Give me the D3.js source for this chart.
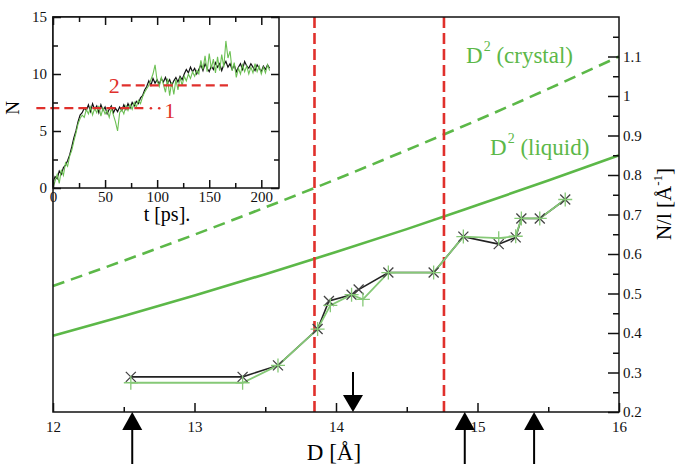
<!DOCTYPE html>
<html>
<head>
<meta charset="utf-8">
<script src="https://cdn.jsdelivr.net/npm/d3@7"></script>
<style>
  body { margin: 0; background: #fff; }
  svg text { font-family: "Liberation Serif", "Times New Roman", serif; }
</style>
</head>
<body>
<svg id="chart" width="678" height="464"></svg>
<script>

// ---- main panel data ----
var xTicks = [12, 13, 14, 15, 16];
var xMinor = [12.5, 13.5, 14.5, 15.5];
var yTicks = [0.2, 0.3, 0.4, 0.5, 0.6, 0.7, 0.8, 0.9, 1.0, 1.1];
var yMinor = [0.25, 0.35, 0.45, 0.55, 0.65, 0.75, 0.85, 0.95, 1.05, 1.15];

// D^2 reference curves
var curveD    = [12, 12.5, 13, 13.5, 14, 14.5, 15, 15.5, 16];
var crystalN  = [0.519, 0.583, 0.649, 0.718, 0.789, 0.863, 0.939, 1.018, 1.100];
var liquidN   = [0.393, 0.443, 0.495, 0.549, 0.605, 0.663, 0.724, 0.786, 0.850];

// simulation points (black x, green +)
var blackD = [12.55, 13.34, 13.59, 13.87, 13.95, 14.11, 14.16, 14.37, 14.69, 14.90, 15.15, 15.27, 15.31, 15.44, 15.62];
var blackN = [0.289, 0.289, 0.318, 0.410, 0.481, 0.497, 0.510, 0.553, 0.553, 0.644, 0.625, 0.642, 0.690, 0.690, 0.738];
var greenD = [12.55, 13.34, 13.59, 13.87, 13.96, 14.11, 14.19, 14.37, 14.69, 14.90, 15.15, 15.27, 15.31, 15.44, 15.62];
var greenN = [0.274, 0.274, 0.318, 0.410, 0.470, 0.497, 0.485, 0.553, 0.553, 0.644, 0.640, 0.645, 0.690, 0.690, 0.738];

// red dashed verticals and arrows
var redD = [13.848, 14.763];
var arrowDownD = [14.12];
var arrowUpD = [12.56, 14.91, 15.40];

// ---- inset data ----
var tTicks = [0, 50, 100, 150, 200];
var tMinor = [25, 75, 125, 175];
var nTicks = [0, 5, 10, 15];
var nMinor = [2.5, 7.5, 12.5];
var tStep = 2;   // ps between samples
var blackTrace = [0.5,1.0,0.8,1.5,1.2,1.8,2.0,2.4,2.9,3.6, 4.4,5.0,5.8,6.4,6.6,7.0,6.8,7.3,6.7,7.4,
  6.9,7.2,6.6,7.3,6.8,7.1,6.5,6.9,7.2,6.6, 7.0,6.7,7.1,6.8,7.3,6.9,7.4,7.0,7.5,7.2,
  7.6,7.4,7.9,8.1,8.6,8.9,9.4,9.0,9.6,9.2, 9.5,9.1,9.6,9.3,9.7,9.2,9.5,9.0,9.4,9.7,
  9.3,9.8,9.5,10.0,10.4,10.1,10.6,10.2,10.5,10.0, 10.4,10.8,10.3,10.9,10.5,10.2,10.7,10.4,11.0,10.6,
  10.9,10.3,10.8,11.1,10.6,10.9,10.4,10.8,10.2,10.6, 10.9,10.4,11.1,10.7,10.5,10.9,10.6,10.3,10.8,10.5,
  10.2,10.7,10.4,10.8,10.5];
var greenTrace = [0.0,0.6,1.2,0.4,1.6,1.1,2.2,1.9,2.8,3.3, 4.1,4.8,5.6,6.1,6.4,6.2,6.9,6.5,7.1,6.4,
  7.0,6.6,7.2,6.3,7.0,6.5,6.8,6.2,7.0,6.4, 5.8,5.0,6.6,6.9,6.5,7.2,6.8,7.3,6.9,7.5,
  7.1,7.7,7.4,8.0,8.4,8.7,9.0,9.5,10.0,10.8, 9.4,8.9,9.7,9.1,8.4,9.6,8.1,9.3,8.2,9.5,
  8.6,9.7,9.0,9.8,9.4,10.0,9.6,10.2,9.8,10.3, 10.0,11.2,10.4,11.6,10.2,11.8,10.5,11.3,10.1,11.5,
  10.3,11.7,10.6,12.9,11.4,12.0,10.3,11.0,9.7,10.5, 10.0,10.8,10.2,10.7,10.0,10.6,10.1,10.9,10.2,10.7,
  10.0,10.6,10.1,10.8,10.3];
// plateau guides in the inset
var guideN  = [7, 9];
var guideT0 = [-16, 66];
var guideT1 = [91, 168];
var guideLabels = ["1", "2"];
var guideDotsT = [94, 102];

// ---- layout ----
var W = 678, H = 464;
var frame = {left: 53, right: 619, top: 17, bottom: 412};
var box = {left: 53, right: 279, top: 17, bottom: 188};
var serif = "'Liberation Serif', 'Times New Roman', serif";

var green = "#5cb848", lightGreen = "#86c977", red = "#e0302c", ink = "#111";

var svg = d3.select("#chart");
svg.append("rect").attr("width", W).attr("height", H).attr("fill", "#fff");

var x = d3.scaleLinear().domain([12, 16]).range([frame.left, frame.right]);
var y = d3.scaleLinear().domain([0.2, 1.2]).range([frame.bottom, frame.top]);

// D^2 curves
var cline = d3.line().x(d => x(d[0])).y(d => y(d[1])).curve(d3.curveMonotoneX);
svg.append("path")
  .datum(curveD.map((d, i) => [d, crystalN[i]]))
  .attr("d", cline).attr("fill", "none")
  .attr("stroke", green).attr("stroke-width", 2.6)
  .attr("stroke-dasharray", "12,7");
svg.append("path")
  .datum(curveD.map((d, i) => [d, liquidN[i]]))
  .attr("d", cline).attr("fill", "none")
  .attr("stroke", green).attr("stroke-width", 2.6);

// red dashed verticals
svg.selectAll(".redv").data(redD).enter().append("line")
  .attr("x1", d => x(d)).attr("x2", d => x(d))
  .attr("y1", frame.top).attr("y2", frame.bottom)
  .attr("stroke", red).attr("stroke-width", 2.6)
  .attr("stroke-dasharray", "11,5");

// data lines
var pline = d3.line().x(d => x(d[0])).y(d => y(d[1]));
var blackPts = blackD.map((d, i) => [d, blackN[i]]);
var greenPts = greenD.map((d, i) => [d, greenN[i]]);
svg.append("path").datum(blackPts).attr("d", pline)
  .attr("fill", "none").attr("stroke", "#222").attr("stroke-width", 1.6);
svg.append("path").datum(greenPts).attr("d", pline)
  .attr("fill", "none").attr("stroke", lightGreen).attr("stroke-width", 1.8);

// markers
svg.selectAll(".bx").data(blackPts).enter().append("path")
  .attr("transform", d => "translate(" + x(d[0]) + "," + y(d[1]) + ")")
  .attr("d", "M-5,-5L5,5M-5,5L5,-5")
  .attr("stroke", "#444").attr("stroke-width", 1.3).attr("fill", "none");
svg.selectAll(".gp").data(greenPts).enter().append("path")
  .attr("transform", d => "translate(" + x(d[0]) + "," + y(d[1]) + ")")
  .attr("d", "M0,-7V7M-7,0H7")
  .attr("stroke", lightGreen).attr("stroke-width", 1.3).attr("fill", "none");

// frame
svg.append("rect")
  .attr("x", frame.left).attr("y", frame.top)
  .attr("width", frame.right - frame.left).attr("height", frame.bottom - frame.top)
  .attr("fill", "none").attr("stroke", ink).attr("stroke-width", 1.5);

function styleAxis(g, size) {
  g.attr("color", ink);
  g.select(".domain").remove();
  g.selectAll("line").attr("stroke-width", 1.5);
  g.selectAll("text").style("font-family", serif).style("font-size", size + "px");
}

// bottom axis (ticks point inward)
svg.append("g").attr("transform", "translate(0," + frame.bottom + ")")
  .call(d3.axisBottom(x).tickValues(xTicks).tickSize(-9).tickPadding(9).tickFormat(d3.format("d")))
  .call(g => styleAxis(g, 15));
svg.append("g").attr("transform", "translate(0," + frame.bottom + ")")
  .call(d3.axisBottom(x).tickValues(xMinor).tickSize(-5).tickFormat(""))
  .call(g => styleAxis(g, 15));

// right axis
svg.append("g").attr("transform", "translate(" + frame.right + ",0)")
  .call(d3.axisRight(y).tickValues(yTicks).tickSize(-11).tickPadding(4).tickFormat(d3.format("~g")))
  .call(g => styleAxis(g, 15));
svg.append("g").attr("transform", "translate(" + frame.right + ",0)")
  .call(d3.axisRight(y).tickValues(yMinor).tickSize(-6).tickFormat(""))
  .call(g => styleAxis(g, 15));

// arrows
var arrows = svg.append("g").attr("fill", "#000").attr("stroke", "#000");
arrowDownD.forEach(function(d) {
  var cx = x(d);
  arrows.append("line").attr("x1", cx).attr("x2", cx)
    .attr("y1", frame.bottom - 40).attr("y2", frame.bottom - 14).attr("stroke-width", 2);
  arrows.append("path")
    .attr("d", "M" + (cx - 10) + "," + (frame.bottom - 17) + "L" + (cx + 10) + "," + (frame.bottom - 17) + "L" + cx + "," + frame.bottom + "Z")
    .attr("stroke", "none");
});
arrowUpD.forEach(function(d) {
  var cx = x(d);
  arrows.append("line").attr("x1", cx).attr("x2", cx)
    .attr("y1", frame.bottom + 14).attr("y2", H).attr("stroke-width", 2);
  arrows.append("path")
    .attr("d", "M" + (cx - 10) + "," + (frame.bottom + 18) + "L" + (cx + 10) + "," + (frame.bottom + 18) + "L" + cx + "," + frame.bottom + "Z")
    .attr("stroke", "none");
});

// labels
svg.append("text").attr("x", (x(14) - 2)).attr("y", 460)
  .attr("text-anchor", "middle").style("font-family", serif).style("font-size", "23px").text("D [Å]");

var ylab = svg.append("text")
  .attr("transform", "translate(671,204) rotate(-90)")
  .attr("text-anchor", "middle").style("font-family", serif).style("font-size", "21px");
ylab.append("tspan").text("N/l [Å");
ylab.append("tspan").attr("dy", -9).style("font-size", "13px").text("-1");
ylab.append("tspan").attr("dy", 9).text("]");

function d2Label(xp, yp, word) {
  var t = svg.append("text").attr("x", xp).attr("y", yp)
    .style("font-family", serif).style("font-size", "23px").attr("fill", green);
  t.append("tspan").text("D");
  t.append("tspan").attr("dy", -12).attr("dx", 1).style("font-size", "14px").text("2");
  t.append("tspan").attr("dy", 12).text(" (" + word + ")");
}
d2Label(466, 63, "crystal");
d2Label(490, 155, "liquid");

// ---- inset ----
var tx = d3.scaleLinear().domain([0, 217]).range([box.left, box.right]);
var ty = d3.scaleLinear().domain([0, 15]).range([box.bottom, box.top]);

svg.append("rect")
  .attr("x", box.left).attr("y", box.top)
  .attr("width", box.right - box.left).attr("height", box.bottom - box.top)
  .attr("fill", "#fff");

var tline = d3.line().x((d, i) => tx(i * tStep)).y(d => ty(d));
svg.append("path").datum(blackTrace).attr("d", tline)
  .attr("fill", "none").attr("stroke", "#111").attr("stroke-width", 1.2);
svg.append("path").datum(greenTrace).attr("d", tline)
  .attr("fill", "none").attr("stroke", "#6cc054").attr("stroke-width", 1.1);

// plateau guides
guideN.forEach(function(n, i) {
  svg.append("line")
    .attr("x1", tx(guideT0[i])).attr("x2", tx(guideT1[i]))
    .attr("y1", ty(n)).attr("y2", ty(n))
    .attr("stroke", red).attr("stroke-width", 2.2)
    .attr("stroke-dasharray", "9,5");
});
svg.selectAll(".gdot").data(guideDotsT).enter().append("circle")
  .attr("cx", d => tx(d)).attr("cy", ty(guideN[0])).attr("r", 1.3).attr("fill", red);
svg.append("text").attr("x", tx(guideDotsT[1]) + 5).attr("y", ty(guideN[0]) + 10)
  .style("font-family", serif).style("font-size", "22px").attr("fill", red).text(guideLabels[0]);
svg.append("text").attr("x", tx(guideT0[1]) - 2).attr("y", ty(guideN[1]) + 8)
  .style("font-family", serif).style("font-size", "22px").attr("fill", red).attr("text-anchor", "end").text(guideLabels[1]);

// inset frame + ticks
svg.append("rect")
  .attr("x", box.left).attr("y", box.top)
  .attr("width", box.right - box.left).attr("height", box.bottom - box.top)
  .attr("fill", "none").attr("stroke", ink).attr("stroke-width", 1.5);

svg.append("g").attr("transform", "translate(0," + box.bottom + ")")
  .call(d3.axisBottom(tx).tickValues(tTicks).tickSize(-8).tickPadding(3))
  .call(g => styleAxis(g, 15));
svg.append("g").attr("transform", "translate(0," + box.bottom + ")")
  .call(d3.axisBottom(tx).tickValues(tMinor).tickSize(-5).tickFormat(""))
  .call(g => styleAxis(g, 15));
svg.append("g").attr("transform", "translate(0," + box.top + ")")
  .call(d3.axisTop(tx).tickValues(tTicks).tickSize(-8).tickFormat(""))
  .call(g => styleAxis(g, 15));
svg.append("g").attr("transform", "translate(0," + box.top + ")")
  .call(d3.axisTop(tx).tickValues(tMinor).tickSize(-5).tickFormat(""))
  .call(g => styleAxis(g, 15));
svg.append("g").attr("transform", "translate(" + box.left + ",0)")
  .call(d3.axisLeft(ty).tickValues(nTicks).tickSize(-8).tickPadding(6))
  .call(g => styleAxis(g, 15));
svg.append("g").attr("transform", "translate(" + box.left + ",0)")
  .call(d3.axisLeft(ty).tickValues(nMinor).tickSize(-5).tickFormat(""))
  .call(g => styleAxis(g, 15));
svg.append("g").attr("transform", "translate(" + box.right + ",0)")
  .call(d3.axisRight(ty).tickValues(nTicks).tickSize(-8).tickFormat(""))
  .call(g => styleAxis(g, 15));
svg.append("g").attr("transform", "translate(" + box.right + ",0)")
  .call(d3.axisRight(ty).tickValues(nMinor).tickSize(-5).tickFormat(""))
  .call(g => styleAxis(g, 15));

svg.append("text").attr("x", 167).attr("y", 221)
  .attr("text-anchor", "middle").style("font-family", serif).style("font-size", "20px").text("t [ps].");
svg.append("text").attr("transform", "translate(19,108) rotate(-90)")
  .attr("text-anchor", "middle").style("font-family", serif).style("font-size", "19px").text("N");

</script>
</body>
</html>
